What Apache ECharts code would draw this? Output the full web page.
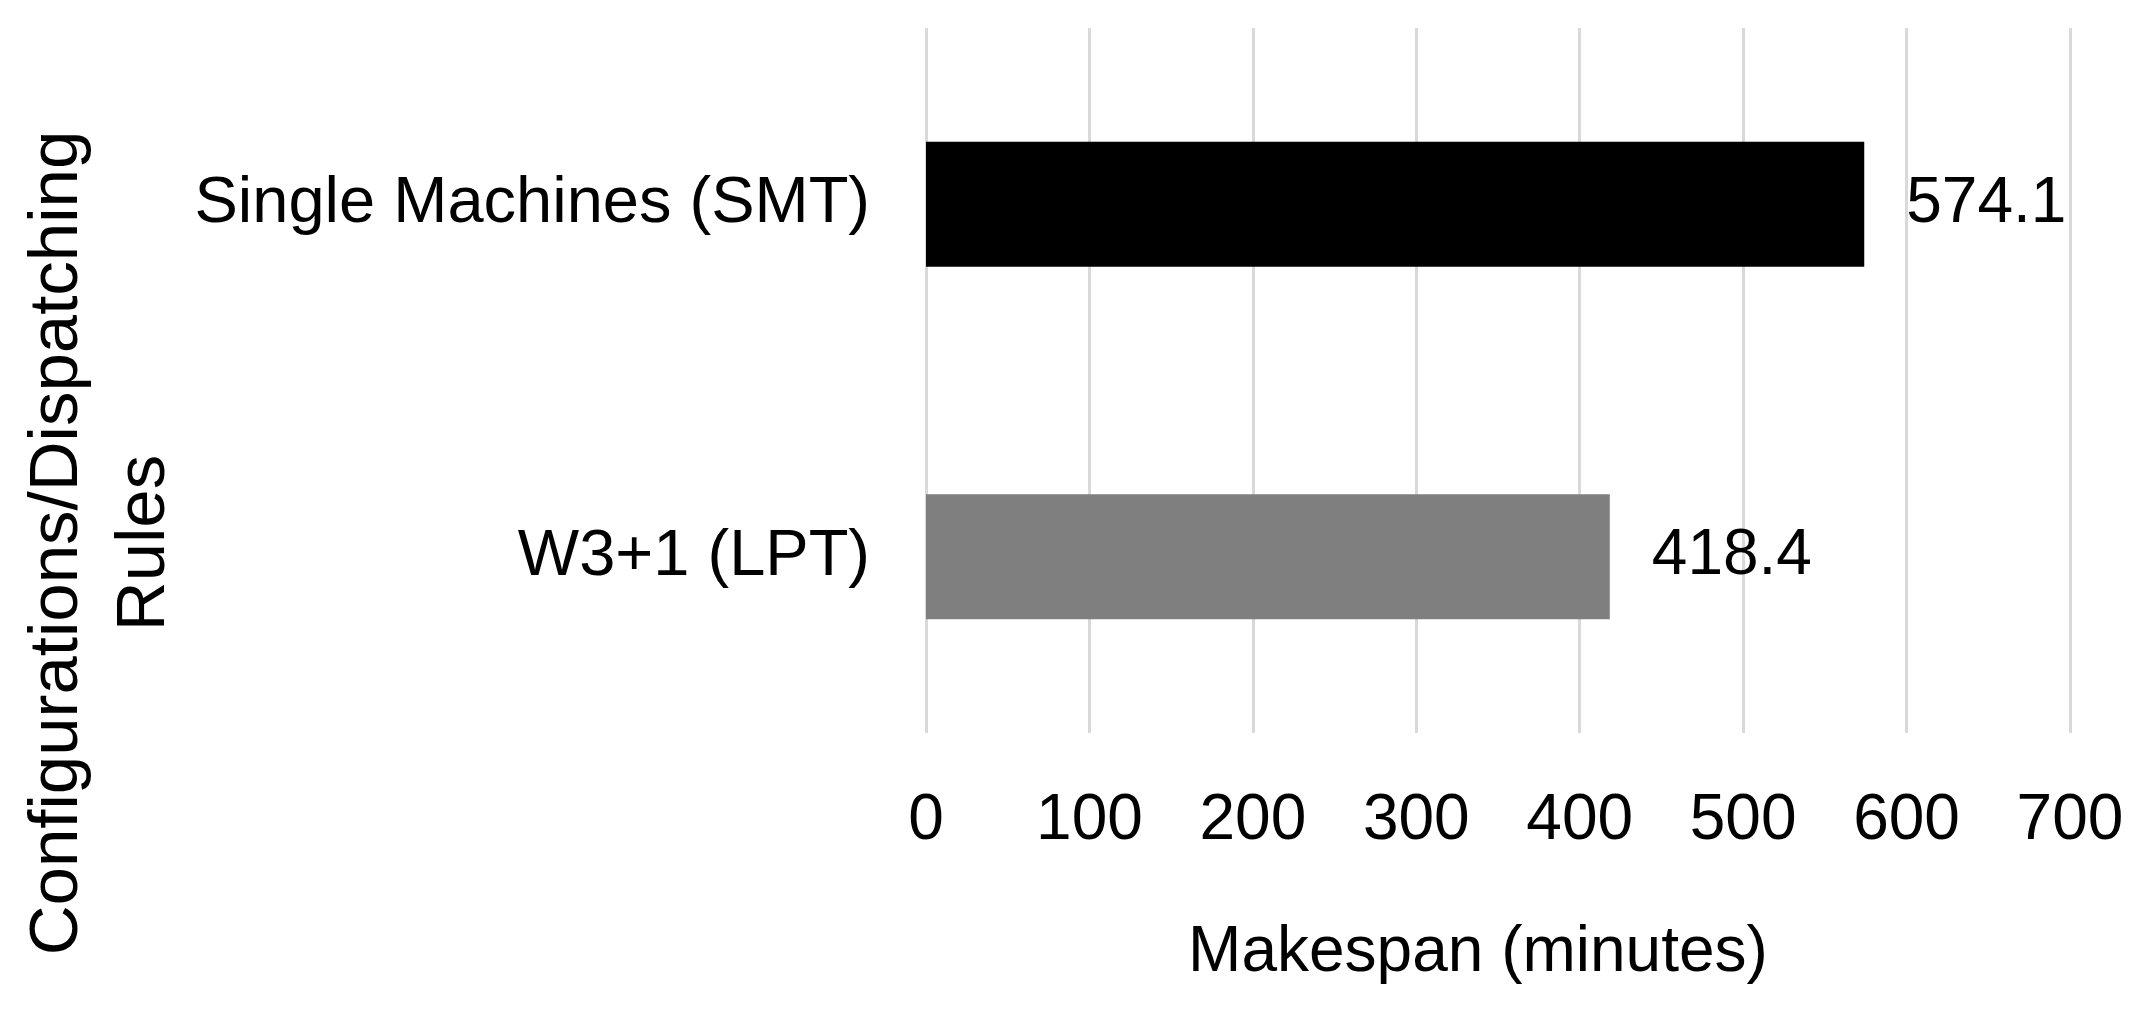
<!DOCTYPE html>
<html>
<head>
<meta charset="utf-8">
<script src="https://cdn.jsdelivr.net/npm/echarts@6/dist/echarts.min.js"></script>
<style>
  html, body { margin: 0; padding: 0; background: #fff; }
  #chart { width: 2144px; height: 1010px; }
</style>
</head>
<body>
<div id="chart"></div>
<script>
// data
var categories = ["W3+1 (LPT)", "Single Machines (SMT)"];
var makespan = [418.4, 574.1];
var barColors = ["#7f7f7f", "#000000"];
var xTicks = { min: 0, max: 700, interval: 100 };

var font = "'Liberation Sans', Arial, sans-serif";

var chart = echarts.init(document.getElementById("chart"));
chart.setOption({
    backgroundColor: "#ffffff",
    animation: false,
    grid: {
        left: 926,
        right: 74,
        top: 28,
        bottom: 277,
        containLabel: false
    },
    xAxis: {
        type: "value",
        min: xTicks.min,
        max: xTicks.max,
        interval: xTicks.interval,
        name: "Makespan (minutes)",
        nameLocation: "middle",
        nameGap: 188,
        nameTextStyle: { fontFamily: font, fontSize: 64, color: "#000", padding: [0, 40, 0, 0] },
        axisLine: { show: false },
        axisTick: { show: false },
        axisLabel: { fontFamily: font, fontSize: 64, color: "#000", margin: 56 },
        splitLine: { show: true, lineStyle: { color: "#d9d9d9", width: 3 } }
    },
    yAxis: {
        type: "category",
        data: categories,
        axisLine: { show: false },
        axisTick: { show: false },
        axisLabel: { fontFamily: font, fontSize: 65, color: "#000", margin: 56 }
    },
    graphic: [{
        type: "text",
        x: 101,
        y: 543,
        rotation: Math.PI / 2,
        style: {
            text: "Configurations/Dispatching\nRules",
            font: "69px " + font,
            fill: "#000",
            align: "center",
            verticalAlign: "middle",
            lineHeight: 87
        }
    }],
    series: [{
        type: "bar",
        barWidth: 125,
        data: makespan.map(function (v, i) {
            return { value: v, itemStyle: { color: barColors[i] } };
        }),
        label: {
            show: true,
            position: "right",
            distance: 42,
            fontFamily: font,
            fontSize: 64,
            color: "#000"
        }
    }]
});
</script>
</body>
</html>
